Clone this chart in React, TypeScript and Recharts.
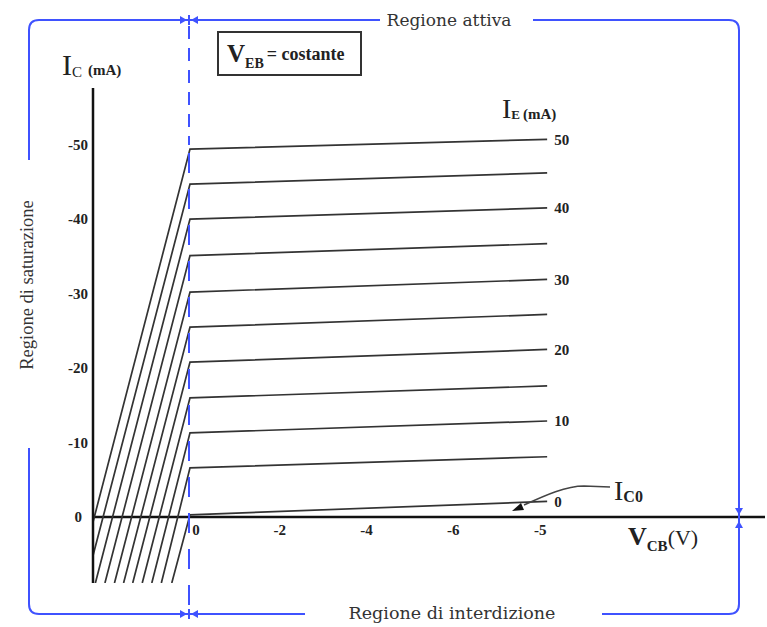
import React from 'react';
import { ComposedChart, Line, XAxis, YAxis, ReferenceLine, ReferenceDot } from 'recharts';

// Emitter current (mA) of each characteristic curve
const ieValues = [0, 5, 10, 15, 20, 25, 30, 35, 40, 45, 50];
// Collector current (mA) at the knee (V_CB = 0)
const kneeIc = [0.3, 6.6, 11.3, 16.0, 20.8, 25.5, 30.2, 35.1, 40.0, 44.7, 49.4];
// Collector current (mA) at the end of the active region
const endIc = [2.1, 8.1, 12.9, 17.6, 22.5, 27.2, 31.9, 36.7, 41.5, 46.2, 50.7];
// Saturation-region foot of each curve (V) at the bottom of the plot
const footV = [-0.42, -0.66, -0.88, -1.1, -1.32, -1.53, -1.74, -1.96, -2.18, -2.4, -2.6];
const footIc = -8.85;
const kneeV = 0;
const endV = 8.23;
const curveLabels = ['0', '', '10', '', '20', '', '30', '', '40', '', '50'];

const xTickValues = [0, 2, 4, 6, 8];
const xTickLabels = ['0', '-2', '-4', '-6', '-5'];
const yTickValues = [0, 10, 20, 30, 40, 50];
const yTickLabels = ['0', '-10', '-20', '-30', '-40', '-50'];

const xDomain: [number, number] = [-2.235, 13.25];
const yDomain: [number, number] = [-8.85, 57.6];

const curves = ieValues.map((ie, k) => ({
  ie,
  label: curveLabels[k],
  data: [
    { v: footV[k], ic: footIc },
    { v: kneeV, ic: kneeIc[k] },
    { v: endV, ic: endIc[k] },
  ],
}));

const SERIF = '"Liberation Serif", "Times New Roman", serif';
const REGION = '"DejaVu Serif", serif';
const BLUE = '#3f52ff';
const INK = '#222';

const YTick = (props: any) => {
  const { x, y, payload } = props;
  const idx = yTickValues.indexOf(payload.value);
  const txt = yTickLabels[idx];
  return (
    <text
      x={x + (txt === '0' ? -6 : 0)}
      y={y}
      textAnchor="end"
      dominantBaseline="central"
      fontFamily={SERIF}
      fontWeight="bold"
      fontSize={15}
      fill={INK}
    >
      {txt}
    </text>
  );
};

const ArrowH = ({ tipX, y, dir }: { tipX: number; y: number; dir: 1 | -1 }) => (
  <polygon points={`${tipX},${y} ${tipX - dir * 7},${y - 4} ${tipX - dir * 7},${y + 4}`} fill={BLUE} />
);
const ArrowV = ({ x, tipY, dir }: { x: number; tipY: number; dir: 1 | -1 }) => (
  <polygon points={`${x},${tipY} ${x - 4},${tipY - dir * 7} ${x + 4},${tipY - dir * 7}`} fill={BLUE} />
);

export default function App() {
  return (
    <div style={{ position: 'absolute', left: 0, top: 0, width: 767, height: 627, background: '#fff' }}>
      <ComposedChart
        width={767}
        height={627}
        margin={{ top: 88, right: 2, bottom: 44, left: 33 }}
      >
        <XAxis
          type="number"
          dataKey="v"
          domain={xDomain}
          allowDataOverflow
          hide
          height={0}
        />
        <YAxis
          type="number"
          dataKey="ic"
          domain={yDomain}
          allowDataOverflow
          ticks={yTickValues}
          width={60}
          axisLine={{ stroke: '#111', strokeWidth: 2.5 }}
          tickLine={false}
          tickSize={3}
          tickMargin={2}
          tick={<YTick />}
        />
        <ReferenceLine y={0} stroke="#111" strokeWidth={2.5} ifOverflow="visible" />
        {curves.map((c) => (
          <Line
            key={c.ie}
            data={c.data}
            dataKey="ic"
            type="linear"
            stroke="#333"
            strokeWidth={1.7}
            dot={false}
            activeDot={false}
            isAnimationActive={false}
          />
        ))}
        {curves.map((c, k) =>
          c.label ? (
            <ReferenceDot
              key={'lab' + c.ie}
              x={endV}
              y={endIc[k]}
              r={1}
              fill="none"
              stroke="none"
              label={{
                value: c.label,
                position: 'right',
                offset: 6,
                fill: INK,
                fontSize: 15,
                fontWeight: 'bold',
                fontFamily: SERIF,
              }}
            />
          ) : null
        )}
        {xTickValues.map((v, k) => (
          <ReferenceDot
            key={'xt' + v}
            x={v}
            y={0}
            r={1}
            fill="none"
            stroke="none"
            label={{
              value: xTickLabels[k],
              position: 'bottom',
              offset: 6,
              dx: v === 0 ? 6 : 3,
              fill: INK,
              fontSize: 15,
              fontWeight: 'bold',
              fontFamily: SERIF,
            }}
          />
        ))}
      </ComposedChart>

      <svg
        width={767}
        height={627}
        style={{ position: 'absolute', left: 0, top: 0, pointerEvents: 'none' }}
      >
        {/* blue region frame */}
        <g fill="none" stroke={BLUE} strokeWidth={2}>
          <path d="M 29 160 L 29 30 Q 29 20 39 20 L 380 20" />
          <path d="M 533 20 L 729 20 Q 739 20 739 30 L 739 604 Q 739 614 729 614 L 602 614" />
          <path d="M 305 614 L 39 614 Q 29 614 29 604 L 29 448" />
          <path d="M 189 26 L 189 145" strokeDasharray="13 9" />
          <path d="M 189 145 L 189 612" strokeDasharray="20 16" strokeDashoffset={-8} />
          <path d="M 189 15 L 189 25" />
          <path d="M 189 609 L 189 619" />
        </g>
        <ArrowH tipX={187} y={20} dir={1} />
        <ArrowH tipX={191} y={20} dir={-1} />
        <ArrowH tipX={187} y={614} dir={1} />
        <ArrowH tipX={191} y={614} dir={-1} />
        <ArrowV x={739} tipY={515} dir={1} />
        <ArrowV x={739} tipY={521} dir={-1} />

        {/* region labels */}
        <text x={449} y={20} textAnchor="middle" dominantBaseline="central" fontFamily={REGION} fontSize={17} fill="#333">
          Regione attiva
        </text>
        <text x={452} y={613} textAnchor="middle" dominantBaseline="central" fontFamily={REGION} fontSize={17.5} fill="#333">
          Regione di interdizione
        </text>
        <text
          x={0}
          y={0}
          transform="translate(27 285) rotate(-90)"
          textAnchor="middle"
          dominantBaseline="central"
          fontFamily={SERIF}
          fontSize={18.5}
          fill="#333"
        >
          Regione di saturazione
        </text>

        {/* V_EB box */}
        <rect x={218} y={32} width={143} height={43} fill="none" stroke="#333" strokeWidth={2} />
        <text x={227} y={62} fontFamily={SERIF} fill={INK}>
          <tspan fontSize={25} fontWeight="bold">V</tspan>
          <tspan fontSize={14} fontWeight="bold" dy={6}>EB</tspan>
          <tspan fontSize={18} fontWeight="bold" dy={-8} dx={3}>= costante</tspan>
        </text>

        {/* axis titles */}
        <text x={62} y={75} fontFamily={SERIF} fill={INK}>
          <tspan fontSize={30}>I</tspan>
          <tspan fontSize={15} dy={2}>C</tspan>
          <tspan fontSize={15} fontWeight="bold" dy={-2} dx={6}>(mA)</tspan>
        </text>
        <text x={502} y={118} fontFamily={SERIF} fill={INK}>
          <tspan fontSize={28}>I</tspan>
          <tspan fontSize={13} fontWeight="bold" dy={1}>E</tspan>
          <tspan fontSize={15} fontWeight="bold" dx={3}>(mA)</tspan>
        </text>
        <text x={628} y={545} fontFamily={SERIF} fill={INK}>
          <tspan fontSize={26} fontWeight="bold">V</tspan>
          <tspan fontSize={15} fontWeight="bold" dy={6}>CB</tspan>
          <tspan fontSize={22} dy={-6}>(V)</tspan>
        </text>

        {/* I_C0 annotation */}
        <path d="M 610 487 L 584 486 C 566 486 546 495 524 505" fill="none" stroke="#444" strokeWidth={1.5} />
        <polygon points="512,511 521,503 524,510" fill="#111" />
        <text x={614} y={500} fontFamily={SERIF} fill={INK}>
          <tspan fontSize={28}>I</tspan>
          <tspan fontSize={16} fontWeight="bold" dy={2}>C0</tspan>
        </text>
      </svg>
    </div>
  );
}
